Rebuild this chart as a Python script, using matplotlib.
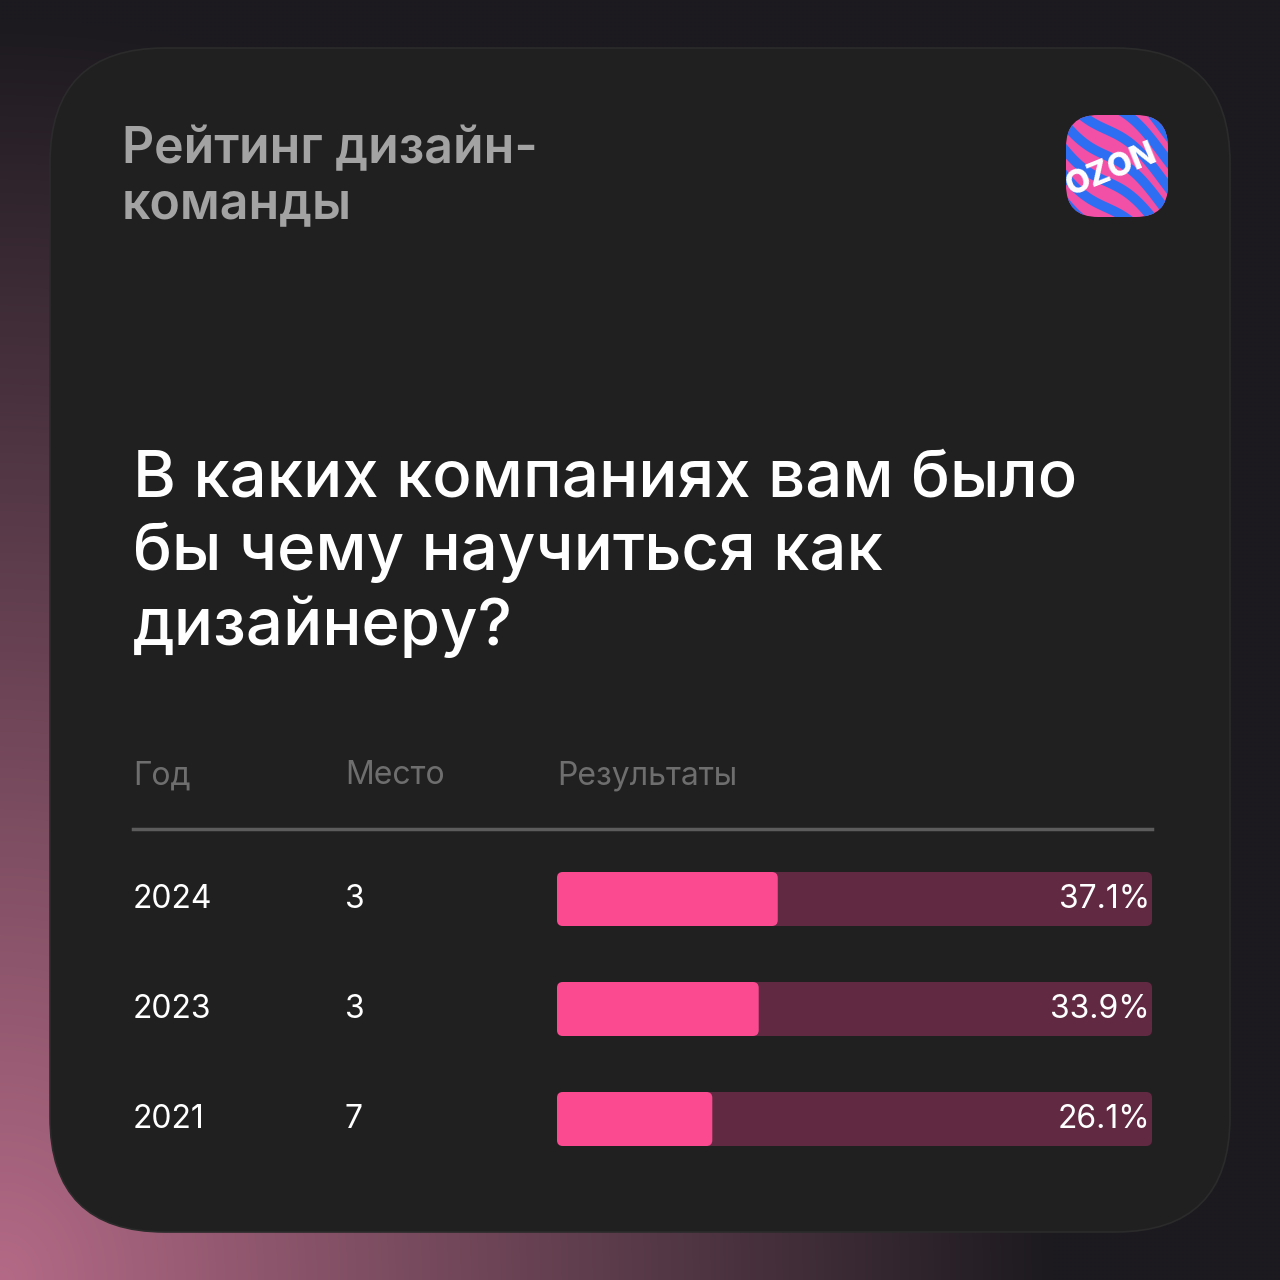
import numpy as np
import matplotlib
matplotlib.use("Agg")
import matplotlib.pyplot as plt
from matplotlib.patches import FancyBboxPatch

plt.rcParams['font.family'] = ['Inter', 'DejaVu Sans']

# data
years = ["2024", "2023", "2021"]
places = ["3", "3", "7"]
results = [37.1, 33.9, 26.1]
headers = ["Год", "Место", "Результаты"]
title = "Рейтинг дизайн-\nкоманды"
question = "В каких компаниях вам было\nбы чему научиться как\nдизайнеру?"

W = H = 1280
fig = plt.figure(figsize=(12.8, 12.8), dpi=100)
ax = fig.add_axes([0, 0, 1, 1])
ax.set_xlim(0, W)
ax.set_ylim(H, 0)
ax.axis("off")

# background: dark with pink glow bottom-left
yy, xx = np.mgrid[0:H:4, 0:W:4]
d = np.sqrt((xx / 1.0) ** 2 + ((H - yy) / 1.2) ** 2)
w = np.clip(1 - d / 1050, 0, 1) ** 1.0
dark = np.array([0x1c, 0x1a, 0x1f]) / 255
pink = np.array([0xb4, 0x6a, 0x86]) / 255
bg = dark[None, None, :] * (1 - w[..., None]) + pink[None, None, :] * w[..., None]
ax.imshow(bg, extent=(0, W, H, 0), zorder=0, interpolation="bilinear")

# card
card = FancyBboxPatch((50, 48), 1180, 1184, boxstyle="round,pad=0,rounding_size=115",
                      fc="#202020", ec="#2b2b2b", lw=1.2, zorder=1)
ax.add_patch(card)

# titles (baseline = last line)
ax.text(122, 218, title, color="#a3a3a3", fontsize=36, fontweight="semibold",
        va="baseline", ha="left", linespacing=1.22, zorder=3)
ax.text(133, 645, question, color="white", fontsize=47, fontweight="medium",
        va="baseline", ha="left", linespacing=1.25, zorder=3)

# logo
logo = FancyBboxPatch((1066, 115), 102, 102, boxstyle="round,pad=0,rounding_size=32",
                      fc="#f24fa6", ec="none", zorder=3)
ax.add_patch(logo)
for k in range(-4, 5):
    t = np.linspace(1050, 1190, 60)
    ys = 165 + k * 26 + 0.9 * (t - 1117) + 8 * np.sin((t - 1050) / 18)
    ln, = ax.plot(t, ys, color="#2e6ef2", lw=7, zorder=4, solid_capstyle="round")
    ln.set_clip_path(logo)
ax.text(1112, 170, "OZON", color="white", fontsize=23, fontweight="heavy",
        rotation=22, ha="center", va="center", zorder=5, clip_on=True).set_clip_path(logo)

# header
for x, h in zip([133, 345, 557], headers):
    ax.text(x, 776, h, color="#6e6e6e", fontsize=23, va="center", ha="left", zorder=3)
ax.plot([133, 1152], [829, 829], color="#5c5c5c", lw=2.5, zorder=3)

# bar axes: x 557..1152, y 844..1174
bax = fig.add_axes([557 / W, 1 - 1174 / H, (1152 - 557) / W, 330 / H])
bax.set_xlim(0, 100)
bax.set_ylim(2.5, -0.5)
bax.axis("off")
bax.patch.set_alpha(0)
ypos = np.arange(len(years))
h = 54 / 110
track = bax.barh(ypos, [100] * len(years), height=h, color="#612a42")
bars = bax.barh(ypos, results, height=h, color="#fc4a91")
asp = (3 / 330) / (100 / 595)
for rect in list(track) + list(bars):
    x0, y0 = rect.get_x(), rect.get_y()
    fbp = FancyBboxPatch((x0, y0), rect.get_width(), rect.get_height(),
                         boxstyle="round,pad=0,rounding_size=1.0", mutation_aspect=asp,
                         fc=rect.get_facecolor(), ec="none", zorder=rect.get_zorder())
    rect.set_visible(False)
    bax.add_patch(fbp)
for i, (v, yr, pl) in enumerate(zip(results, years, places)):
    bax.text(99.7, i, f"{v:.1f}%", color="white", fontsize=23, ha="right", va="center")
    yc = 899 + i * 110
    ax.text(133, yc, yr, color="white", fontsize=23, ha="left", va="center", zorder=3)
    ax.text(345, yc, pl, color="white", fontsize=23, ha="left", va="center", zorder=3)

fig.savefig("out.png", dpi=100)
